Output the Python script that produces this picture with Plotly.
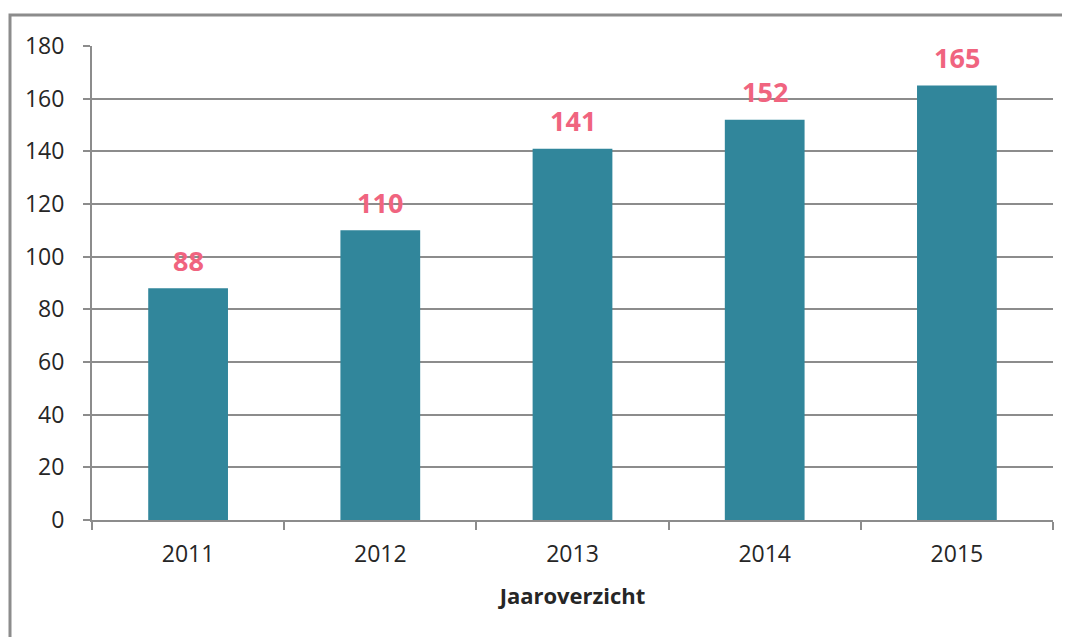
import plotly.graph_objects as go

years = ["2011", "2012", "2013", "2014", "2015"]
counts = [88, 110, 141, 152, 165]
y_ticks = [0, 20, 40, 60, 80, 100, 120, 140, 160, 180]

bar_color = "#31869B"
label_color = "#F0647F"
grid_color = "#8C8C8C"
text_color = "#262626"

fig = go.Figure(go.Bar(
    x=years,
    y=counts,
    marker=dict(color=bar_color, line=dict(width=0)),
    width=0.415,
    hoverinfo="x+y",
))

# value labels above the bars (x given as category index)
for i, v in enumerate(counts):
    fig.add_annotation(
        x=i, y=v, text="<b>%d</b>" % v,
        showarrow=False, yanchor="middle", yshift=28,
        font=dict(family="Open Sans", size=27, color=label_color),
    )

fig.update_layout(
    width=1070,
    height=637,
    margin=dict(l=84, r=25, t=38, b=125),
    paper_bgcolor="white",
    plot_bgcolor="white",
    font=dict(family="Open Sans", color=text_color),
    showlegend=False,
)

fig.update_xaxes(
    type="category",
    range=[-0.5, 4.5],
    showline=True,
    linecolor=grid_color,
    linewidth=2,
    ticks="outside",
    tickson="boundaries",
    ticklen=8,
    tickwidth=2,
    tickcolor=grid_color,
    ticklabelstandoff=12,
    tickangle=0,
    tickfont=dict(size=23, color=text_color),
    title=dict(text="<b>Jaaroverzicht</b>", font=dict(size=22, color=text_color), standoff=21),
)

fig.update_yaxes(
    range=[0, 180],
    tickvals=y_ticks,
    showgrid=True,
    gridcolor=grid_color,
    gridwidth=2,
    showline=True,
    linecolor=grid_color,
    linewidth=2,
    ticks="outside",
    ticklen=7,
    tickwidth=2,
    tickcolor=grid_color,
    ticklabelstandoff=14,
    tickfont=dict(size=23, color=text_color),
    zeroline=False,
)

# outer chart border (right and bottom edges fall outside the window)
fig.add_shape(
    type="rect", xref="paper", yref="paper",
    x0=(2 - 84) / 961, x1=(1080 - 84) / 961,
    y0=(512 - 650) / 474, y1=(512 - 7) / 474,
    line=dict(color=grid_color, width=3),
    layer="below",
)

fig.write_html("out.html")
